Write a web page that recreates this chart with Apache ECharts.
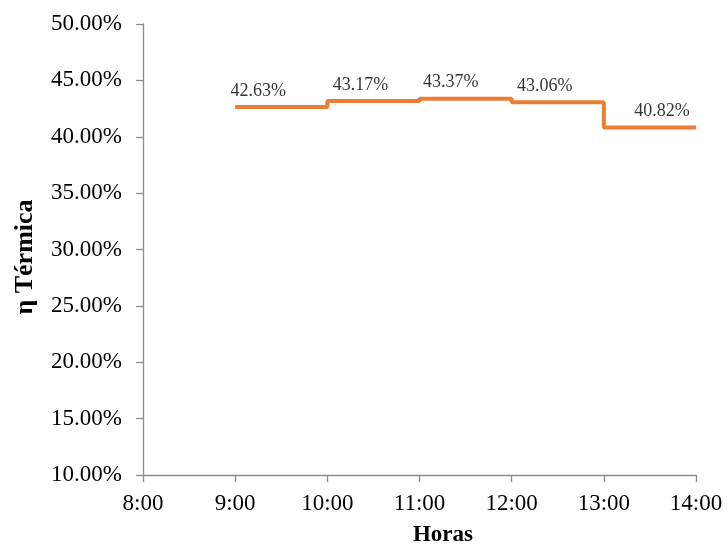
<!DOCTYPE html>
<html>
<head>
<meta charset="utf-8">
<script src="https://cdn.jsdelivr.net/npm/echarts@6/dist/echarts.min.js"></script>
<style>
  html, body { margin: 0; padding: 0; background: #ffffff; }
  #chart { width: 728px; height: 547px; }
</style>
</head>
<body>
<div id="chart"></div>
<script>
// Hour ticks on the x axis
var tickLabels = ['8:00', '9:00', '10:00', '11:00', '12:00', '13:00', '14:00'];
// Start of each interval and its thermal efficiency (%)
var hours = ['9:00', '10:00', '11:00', '12:00', '13:00', '14:00'];
var efficiency = [42.63, 43.17, 43.37, 43.06, 40.82, 40.82];
// Number of labelled intervals (last point only closes the step)
var labelledCount = 5;

function toHour(s) {
  var p = s.split(':');
  return Number(p[0]) + Number(p[1]) / 60;
}
function hourText(v) {
  var h = Math.floor(v);
  var m = Math.round((v - h) * 60);
  return h + ':' + (m < 10 ? '0' + m : m);
}

// Horizontal placement of each value label inside its interval (fraction of an hour)
var labelShift = [0.25, 0.36, 0.34, 0.36, 0.63];

var stepData = hours.map(function (h, i) { return [toHour(h), efficiency[i]]; });
var labelData = [];
for (var i = 0; i < labelledCount; i++) {
  labelData.push([toHour(hours[i]) + labelShift[i], efficiency[i]]);
}

var font = '"Liberation Serif", "Times New Roman", serif';
var axisColor = '#8c8c8c';

var chart = echarts.init(document.getElementById('chart'), null, { renderer: 'canvas' });
chart.setOption({
  animation: false,
  backgroundColor: '#ffffff',
  grid: { left: 143, right: 32, top: 24, bottom: 72, containLabel: false, outerBoundsMode: 'none' },
  graphic: [
    {
      type: 'text',
      x: 443, y: 535,
      style: {
        text: 'Horas', font: 'bold 23px ' + font, fill: '#000',
        align: 'center', verticalAlign: 'middle'
      }
    },
    {
      type: 'text',
      x: 25, y: 257,
      rotation: Math.PI / 2,
      style: {
        text: 'η Térmica', font: 'bold 26px ' + font, fill: '#000',
        align: 'center', verticalAlign: 'middle'
      }
    }
  ],
  xAxis: {
    type: 'value',
    min: toHour(tickLabels[0]),
    max: toHour(tickLabels[tickLabels.length - 1]),
    interval: 1,
    axisLine: { show: true, lineStyle: { color: axisColor, width: 1.3 } },
    axisTick: { show: true, length: 7, lineStyle: { color: axisColor, width: 1.3 } },
    axisLabel: {
      margin: 17,
      fontFamily: font, fontSize: 23, color: '#000',
      formatter: function (v) { return hourText(v); }
    },
    splitLine: { show: false }
  },
  yAxis: {
    type: 'value',
    min: 10,
    max: 50,
    interval: 5,
    axisLine: { show: true, lineStyle: { color: axisColor, width: 1.3 } },
    axisTick: { show: true, length: 7, lineStyle: { color: axisColor, width: 1.3 } },
    axisLabel: {
      margin: 21,
      fontFamily: font, fontSize: 23, color: '#000',
      formatter: function (v) { return v.toFixed(2) + '%'; }
    },
    splitLine: { show: false }
  },
  series: [
    {
      type: 'line',
      step: 'end',
      data: stepData,
      symbol: 'none',
      lineStyle: { color: '#ED7D31', width: 4 },
      z: 3
    },
    {
      type: 'scatter',
      data: labelData,
      symbolSize: 0,
      silent: true,
      label: {
        show: true,
        position: 'top',
        distance: 7,
        fontFamily: font,
        fontSize: 18,
        color: '#000',
        formatter: function (p) { return p.value[1].toFixed(2) + '%'; }
      },
      z: 4
    }
  ]
});
</script>
</body>
</html>
